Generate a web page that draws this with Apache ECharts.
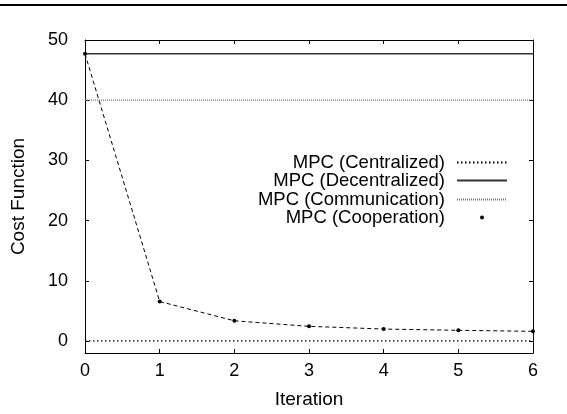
<!DOCTYPE html>
<html>
<head>
<meta charset="utf-8">
<script src="https://cdn.jsdelivr.net/npm/echarts@6/dist/echarts.min.js"></script>
<style>
    html, body { margin: 0; padding: 0; background: #fff; }
    #chart { width: 567px; height: 414px; }
</style>
</head>
<body>
<div id="chart"></div>
<script>
    // iterations on the x axis
    const iterations = [0, 1, 2, 3, 4, 5, 6]
    // series values
    const centralized = [0, 0, 0, 0, 0, 0, 0]
    const decentralized = [47.7, 47.7, 47.7, 47.7, 47.7, 47.7, 47.7]
    const communication = [40, 40, 40, 40, 40, 40, 40]
    const cooperation = [47.7, 6.55, 3.35, 2.43, 1.98, 1.77, 1.6]
    const yTicks = [0, 10, 20, 30, 40, 50]
    const seriesNames = ['MPC (Centralized)', 'MPC (Decentralized)', 'MPC (Communication)', 'MPC (Cooperation)']

    const font = 'Liberation Sans, Arial, sans-serif'
    const pairs = vals => iterations.map((x, i) => [x, vals[i]])

    // one legend per row so the texts line up on the right
    const legendTops = [153, 171, 190, 208]
    const legendItem = [
        { name: seriesNames[0], itemStyle: { opacity: 0 } },
        { name: seriesNames[1], itemStyle: { opacity: 0 } },
        { name: seriesNames[2], itemStyle: { opacity: 0 } },
        { name: seriesNames[3], lineStyle: { opacity: 0 } }
    ]
    const legends = legendItem.map((item, i) => ({
        data: [item],
        orient: 'vertical',
        right: 59,
        top: legendTops[i],
        padding: 0,
        align: 'right',
        itemWidth: 50,
        itemHeight: 5,
        selectedMode: false,
        textStyle: { fontFamily: font, fontSize: 18.5, color: '#000', padding: [0, 7, 0, 0] }
    }))

    const axisLine = { show: true, onZero: false, lineStyle: { color: '#000', width: 1 } }
    const axisTick = { show: true, inside: true, length: 4, lineStyle: { color: '#000', width: 1 } }

    const chart = echarts.init(document.getElementById('chart'))
    chart.setOption({
        animation: false,
        backgroundColor: '#fff',
        grid: { left: 85, right: 34, top: 40, bottom: 59 },
        legend: legends,
        graphic: [{
            type: 'rect',
            shape: { x: 0, y: 4, width: 567, height: 2 },
            style: { fill: '#000' }
        }],
        xAxis: [{
            type: 'value',
            min: 0,
            max: 6,
            interval: 1,
            name: 'Iteration',
            nameLocation: 'middle',
            nameGap: 37,
            nameTextStyle: { fontFamily: font, fontSize: 19, color: '#000' },
            axisLine: axisLine,
            axisTick: axisTick,
            axisLabel: { fontFamily: font, fontSize: 18, color: '#000', margin: 9 },
            splitLine: { show: false }
        }, {
            type: 'value',
            position: 'top',
            min: 0,
            max: 6,
            interval: 1,
            axisLine: axisLine,
            axisTick: axisTick,
            axisLabel: { show: false },
            splitLine: { show: false }
        }],
        yAxis: [{
            type: 'value',
            min: -2,
            max: 50,
            name: 'Cost Function',
            nameLocation: 'middle',
            nameGap: 57,
            nameTextStyle: { fontFamily: font, fontSize: 19, color: '#000' },
            axisLine: axisLine,
            axisTick: Object.assign({ customValues: yTicks }, axisTick),
            axisLabel: { customValues: yTicks, fontFamily: font, fontSize: 18, color: '#000', margin: 17 },
            splitLine: { show: false }
        }, {
            type: 'value',
            position: 'right',
            min: -2,
            max: 50,
            axisLine: axisLine,
            axisTick: Object.assign({ customValues: yTicks }, axisTick),
            axisLabel: { show: false },
            splitLine: { show: false }
        }],
        series: [{
            name: seriesNames[0],
            type: 'line',
            data: pairs(centralized),
            symbol: 'none',
            lineStyle: { color: '#000', width: 1.2, type: [1.5, 2.5] },
            itemStyle: { color: '#000' }
        }, {
            name: seriesNames[1],
            type: 'line',
            data: pairs(decentralized),
            symbol: 'none',
            lineStyle: { color: '#333', width: 1.5, type: 'solid' },
            itemStyle: { color: '#333' }
        }, {
            name: seriesNames[2],
            type: 'line',
            data: pairs(communication),
            symbol: 'none',
            lineStyle: { color: '#777', width: 1.2, type: [1, 1] },
            itemStyle: { color: '#777' }
        }, {
            name: seriesNames[3],
            type: 'line',
            data: pairs(cooperation),
            symbol: 'circle',
            symbolSize: 4,
            lineStyle: { color: '#000', width: 1, type: [4, 3] },
            itemStyle: { color: '#000' },
            z: 5
        }]
    })
</script>
</body>
</html>
